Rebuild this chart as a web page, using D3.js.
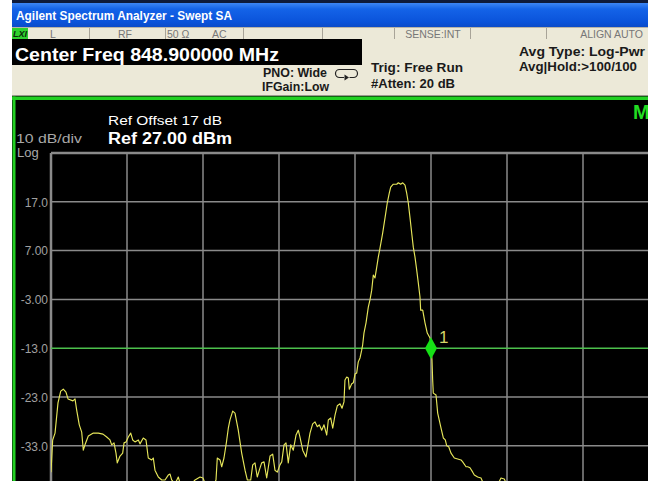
<!DOCTYPE html>
<html><head><meta charset="utf-8">
<script src="https://cdn.jsdelivr.net/npm/d3@7"></script>
<style>html,body{margin:0;padding:0;background:#fff;overflow:hidden}</style>
</head><body><svg id="c" width="656" height="482"></svg>
<script>
// ---------- data ----------
const centerFreqMHz = 848.9, spanMHz = 10;
const refLevelDbm = 27, dbPerDiv = 10, numDivs = 10;
const yTickValues = [17, 7, -3, -13, -23, -33];
const yTickLabels = ["17.0", "7.00", "-3.00", "-13.0", "-23.0", "-33.0"];
const limitLineDbm = -13;
const markerFreqMHz = 848.9, markerLevelDbm = -13, markerLabel = "1";

const freqMHz = [843.900,843.922,843.953,843.992,844.028,844.062,844.097,844.124,844.189,844.216,
844.238,844.272,844.304,844.325,844.347,844.391,844.457,844.522,844.584,844.633,
844.676,844.699,844.729,844.755,844.772,844.808,844.843,844.861,844.887,844.917,
844.949,844.975,845.005,845.049,845.071,845.114,845.150,845.180,845.225,845.246,
845.268,845.312,845.357,845.400,845.443,845.466,845.488,845.532,845.575,845.597,
845.703,845.795,845.861,845.900,845.939,846.018,846.071,846.088,846.124,846.146,
846.176,846.209,846.233,846.255,846.291,846.321,846.364,846.409,846.453,846.483,
846.528,846.554,846.584,846.614,846.641,846.672,846.703,846.738,846.782,846.817,
846.847,846.878,846.913,846.936,846.966,846.992,847.022,847.054,847.088,847.124,
847.154,847.176,847.212,847.255,847.286,847.308,847.343,847.374,847.404,847.430,
847.462,847.492,847.528,847.549,847.580,847.607,847.637,847.667,847.703,847.729,
847.755,847.768,847.791,847.812,847.825,847.857,847.878,847.900,847.922,847.943,
847.966,847.988,848.001,848.018,848.045,848.075,848.097,848.120,848.141,848.163,
848.186,848.207,848.229,848.264,848.295,848.325,848.351,848.370,848.404,848.449,
848.470,848.501,848.528,848.558,848.580,848.601,848.624,848.646,848.667,848.689,
848.712,848.733,848.755,848.764,848.791,848.821,848.851,848.887,848.900,848.913,
848.922,848.930,848.966,848.988,849.032,849.062,849.088,849.107,849.133,849.163,
849.207,849.251,849.295,849.317,849.361,849.383,849.413,849.449,849.470,849.514,
849.558,849.580,849.676,849.782,849.821,849.864,849.900,850.071,850.597,851.124,851.782];

const levelDbm = [-38.4,-31.8,-30.4,-24.2,-21.8,-21.4,-22.0,-23.4,-23.8,-23.4,
-25.7,-28.7,-30.2,-33.9,-32.8,-31.0,-30.4,-30.4,-30.6,-31.2,
-31.8,-32.8,-32.4,-34.5,-36.5,-35.1,-34.5,-32.4,-32.2,-31.2,
-30.4,-31.8,-32.2,-31.8,-32.6,-31.4,-31.8,-35.5,-35.9,-35.5,
-38.0,-39.4,-40.0,-40.0,-39.0,-38.8,-40.0,-40.8,-39.4,-40.6,
-41.6,-40.0,-39.4,-39.6,-41.2,-41.6,-40.0,-35.5,-35.9,-37.3,
-35.5,-32.2,-29.4,-27.7,-25.9,-26.3,-29.8,-34.5,-38.0,-40.0,
-40.0,-36.9,-36.5,-39.4,-38.0,-36.5,-36.3,-39.6,-35.1,-34.7,
-38.0,-38.4,-36.9,-36.3,-32.8,-32.4,-36.5,-32.8,-33.9,-30.8,
-29.8,-31.2,-33.9,-35.3,-32.4,-30.4,-28.5,-28.1,-29.1,-28.7,
-29.8,-28.7,-30.8,-27.7,-27.3,-29.4,-26.7,-24.8,-24.4,-25.3,
-24.0,-19.5,-18.9,-19.1,-21.4,-20.3,-20.1,-18.3,-18.1,-15.8,
-15.0,-13.4,-12.3,-9.9,-7.8,-4.6,-3.1,-1.1,2.0,1.4,
3.6,5.7,7.5,10.6,13.7,16.8,18.8,20.0,20.6,20.6,
20.9,20.6,20.9,20.4,18.8,16.8,13.7,10.6,7.7,5.7,
3.0,0.4,-2.5,-5.2,-5.2,-7.8,-9.9,-10.9,-12.8,-15.4,
-19.5,-22.2,-22.6,-26.3,-29.4,-31.4,-31.8,-33.0,-33.2,-34.5,
-35.5,-35.7,-35.9,-36.3,-37.3,-37.3,-37.5,-38.4,-39.0,-39.4,
-39.6,-40.4,-41.6,-40.8,-39.6,-39.8,-41.0,-42.1,-42.5,-42.1,-42.5];

const titleText = "Agilent Spectrum Analyzer - Swept SA";
const statusFields = [
  {t:"L", x:50, a:"start"}, {t:"RF", x:125, a:"middle"}, {t:"50 Ω", x:167, a:"start"},
  {t:"AC", x:212, a:"start"}, {t:"SENSE:INT", x:433, a:"middle"}, {t:"ALIGN AUTO", x:643, a:"end"}];
const statusSeparators = [89, 165, 243, 322, 394, 470, 546];

// ---------- drawing ----------
const svg = d3.select("#c");
const FONT = "'Liberation Sans', Arial, Helvetica, sans-serif";
svg.attr("font-family", FONT);

svg.append("rect").attr("width",656).attr("height",482).attr("fill","#ffffff");

// title bar
const defs = svg.append("defs");
const g1 = defs.append("linearGradient").attr("id","tb").attr("x1",0).attr("y1",0).attr("x2",0).attr("y2",1);
g1.append("stop").attr("offset","0").attr("stop-color","#3d86f4");
g1.append("stop").attr("offset","0.25").attr("stop-color","#1463e8");
g1.append("stop").attr("offset","0.8").attr("stop-color","#0a53da");
g1.append("stop").attr("offset","1").attr("stop-color","#0c4cc8");
svg.append("rect").attr("x",0).attr("y",0).attr("width",656).attr("height",3).attr("fill","#0e1a3a");
svg.append("rect").attr("x",12).attr("y",3).attr("width",644).attr("height",24).attr("fill","url(#tb)");
svg.append("text").attr("x",16).attr("y",19.5).attr("fill","#ffffff")
  .attr("font-size",12.5).attr("font-weight","bold")
  .attr("textLength",216).attr("lengthAdjust","spacingAndGlyphs").text(titleText);

// status bar
svg.append("rect").attr("x",12).attr("y",27).attr("width",644).attr("height",12).attr("fill","#ece9d8");
svg.append("line").attr("x1",12).attr("x2",656).attr("y1",27.5).attr("y2",27.5).attr("stroke","#b8b4a8");
svg.selectAll(".sep").data(statusSeparators).enter().append("line")
  .attr("x1",d=>d+0.5).attr("x2",d=>d+0.5).attr("y1",28).attr("y2",39).attr("stroke","#a8a498");
svg.append("rect").attr("x",12).attr("y",28).attr("width",16).attr("height",11).attr("fill","#2ed12e");
svg.append("text").attr("x",13).attr("y",37).attr("font-size",9).attr("font-weight","bold")
  .attr("font-style","italic").attr("fill","#0a2a0a").text("LXI");
svg.selectAll(".st").data(statusFields).enter().append("text")
  .attr("x",d=>d.x).attr("y",37.5).attr("text-anchor",d=>d.a)
  .attr("font-size",10.5).attr("fill","#777777").text(d=>d.t);

// info panel
svg.append("rect").attr("x",12).attr("y",39).attr("width",644).attr("height",57).attr("fill","#ece9d8");
svg.append("rect").attr("x",12).attr("y",39).attr("width",350).attr("height",26).attr("fill","#000000");
svg.append("text").attr("x",15).attr("y",61).attr("fill","#ffffff").attr("font-size",18)
  .attr("font-weight","bold").attr("textLength",264).attr("lengthAdjust","spacingAndGlyphs")
  .text("Center Freq " + centerFreqMHz.toFixed(6) + " MHz");
const info = [
  {t:"PNO: Wide", x:327, y:77, a:"end", w:64},
  {t:"IFGain:Low", x:329, y:91, a:"end", w:67},
  {t:"Trig: Free Run", x:371, y:72, a:"start", w:92},
  {t:"#Atten: 20 dB", x:371, y:88, a:"start", w:84},
  {t:"Avg Type: Log-Pwr", x:645, y:56, a:"end", w:126},
  {t:"Avg|Hold:>100/100", x:637, y:71, a:"end", w:118}];
svg.selectAll(".info").data(info).enter().append("text")
  .attr("x",d=>d.x).attr("y",d=>d.y).attr("text-anchor",d=>d.a)
  .attr("font-size",12).attr("font-weight","bold").attr("fill","#1a1a1a")
  .attr("textLength",d=>d.w).attr("lengthAdjust","spacingAndGlyphs").text(d=>d.t);
svg.append("path").attr("d","M344,77.5 H339.5 A4,4 0 0 1 339.5,69.5 H353.5 A4,4 0 0 1 353.5,77.5 H349.5")
  .attr("fill","none").attr("stroke","#222").attr("stroke-width",1.2);
svg.append("path").attr("d","M344.5,74.5 L349,77.5 L344.5,80.5 Z").attr("fill","#222");
svg.append("line").attr("x1",12).attr("x2",656).attr("y1",95.5).attr("y2",95.5).attr("stroke","#9a988e");

// plot background + green border
svg.append("rect").attr("x",12).attr("y",96).attr("width",644).attr("height",386).attr("fill","#000000");
svg.append("rect").attr("x",12).attr("y",96.5).attr("width",644).attr("height",3.5).attr("fill","#22d022");
svg.append("rect").attr("x",12.5).attr("y",96.5).attr("width",3).attr("height",386).attr("fill","#22d022");

// scales
const x = d3.scaleLinear().domain([centerFreqMHz - spanMHz/2, centerFreqMHz + spanMHz/2]).range([51, 811]);
const y = d3.scaleLinear().domain([refLevelDbm - dbPerDiv*numDivs, refLevelDbm]).range([641, 153]);

// gridlines
const xGridVals = d3.range(numDivs + 1).map(i => x.domain()[0] + i * spanMHz/numDivs);
const yGridVals = d3.range(numDivs + 1).map(i => refLevelDbm - i * dbPerDiv);
const grid = svg.append("g");
grid.selectAll(".vg").data(xGridVals).enter().append("line")
  .attr("x1",d=>x(d)).attr("x2",d=>x(d)).attr("y1",y(refLevelDbm)).attr("y2",y(refLevelDbm - dbPerDiv*numDivs))
  .attr("stroke","#8a8a8a").attr("stroke-width",(d,i)=> i===0 ? 2.5 : 1.5);
grid.selectAll(".hg").data(yGridVals.filter(v => v !== limitLineDbm)).enter().append("line")
  .attr("x1",x.range()[0]).attr("x2",x.range()[1]).attr("y1",d=>y(d)).attr("y2",d=>y(d))
  .attr("stroke","#8a8a8a").attr("stroke-width",(d,i)=> i===0 ? 2.5 : 1.5);

// y labels via axis
const yAxis = d3.axisLeft(y).tickValues(yTickValues)
  .tickFormat((d,i) => yTickLabels[i]).tickSize(0).tickPadding(0);
const ya = svg.append("g").attr("transform","translate(48,0)").call(yAxis);
ya.select(".domain").remove();
ya.selectAll("text").attr("fill","#a0a0a0").attr("font-size",12).attr("font-family",FONT).attr("dy","0.36em");

// limit line
svg.append("line").attr("x1",x.range()[0]).attr("x2",x.range()[1])
  .attr("y1",y(limitLineDbm)).attr("y2",y(limitLineDbm))
  .attr("stroke","#4cbf4c").attr("stroke-width",1.6);

// trace
defs.append("clipPath").attr("id","pc").append("rect")
  .attr("x",51).attr("y",153).attr("width",760).attr("height",488);
const pts = freqMHz.map((f,i)=>[f, levelDbm[i]]);
svg.append("path").datum(pts).attr("clip-path","url(#pc)")
  .attr("d", d3.line().x(d=>x(d[0])).y(d=>y(d[1])))
  .attr("fill","none").attr("stroke","#e6e65a").attr("stroke-width",1.15).attr("stroke-linejoin","round");

// marker
const mx = x(markerFreqMHz), my = y(markerLevelDbm);
svg.append("path").attr("d",`M${mx},${my-11} L${mx+6},${my} L${mx},${my+11} L${mx-6},${my} Z`).attr("fill","#16e016");
svg.append("text").attr("x",mx+8).attr("y",my-5).attr("font-size",17).attr("fill","#d6d66a").text(markerLabel);

// annotations
svg.append("text").attr("x",16).attr("y",143).attr("font-size",12.5).attr("fill","#a8a8a8")
  .attr("textLength",66).attr("lengthAdjust","spacingAndGlyphs").text(dbPerDiv + " dB/div");
svg.append("text").attr("x",17).attr("y",157).attr("font-size",13).attr("fill","#a8a8a8").text("Log");
svg.append("text").attr("x",108).attr("y",125).attr("font-size",12.5).attr("fill","#ffffff")
  .attr("textLength",114).attr("lengthAdjust","spacingAndGlyphs").text("Ref Offset 17 dB");
svg.append("text").attr("x",108).attr("y",143.5).attr("font-size",16).attr("font-weight","bold").attr("fill","#ffffff")
  .attr("textLength",124).attr("lengthAdjust","spacingAndGlyphs")
  .text("Ref " + refLevelDbm.toFixed(2) + " dBm");
svg.append("text").attr("x",633).attr("y",119).attr("font-size",20).attr("font-weight","bold").attr("fill","#22dd22").text("M");

// outer white margins
svg.append("rect").attr("x",0).attr("y",0).attr("width",12).attr("height",482).attr("fill","#ffffff");
svg.append("rect").attr("x",648).attr("y",0).attr("width",8).attr("height",482).attr("fill","#ffffff");
svg.append("rect").attr("x",0).attr("y",481).attr("width",656).attr("height",1).attr("fill","#ffffff");
</script></body></html>
